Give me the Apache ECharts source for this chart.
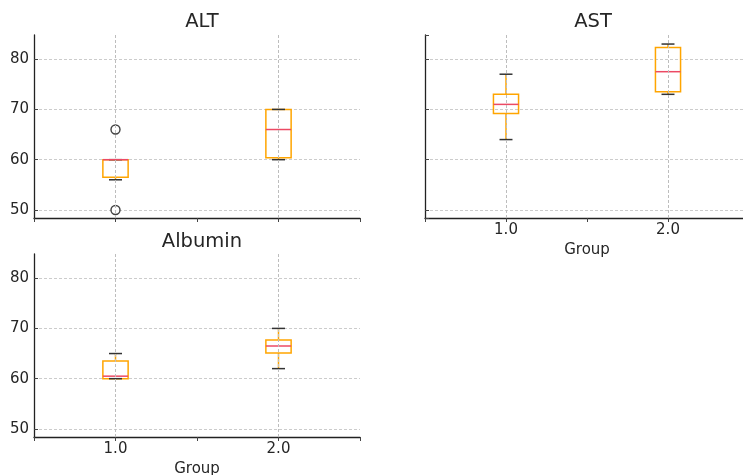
<!DOCTYPE html>
<html>
<head>
<meta charset="utf-8">
<script src="https://cdn.jsdelivr.net/npm/echarts@6/dist/echarts.min.js"></script>
<style>
html, body { margin: 0; padding: 0; background: #fff; }
#main { width: 743px; height: 475px; }
</style>
</head>
<body>
<div id="main"></div>
<script>
// groups on the x axis
var groups = [1, 2];
var groupLabels = ['1.0', '2.0'];
// box stats per group: [low whisker, q1, median, q3, high whisker]
var altStats = [[56, 56.5, 60, 60, 60], [60, 60.4, 66, 70, 70]];
var altOutliers = [[1, 66], [1, 50]];
var astStats = [[64, 69.2, 71, 73, 77], [73, 73.5, 77.5, 82.3, 83]];
var astOutliers = [];
var albStats = [[60, 60, 60.5, 63.5, 65], [62, 65.1, 66.5, 67.7, 70]];
var albOutliers = [];

var ORANGE = '#ffa500';
var MEDIAN = '#ec4a64';
var CAP = '#333';
var TEXT = '#262626';
var FONT = 'DejaVu Sans';

var chart = echarts.init(document.getElementById('main'));

function renderBox(params, api) {
    var x = api.value(0);
    var lo = api.coord([x, api.value(1)]);
    var q1 = api.coord([x, api.value(2)]);
    var md = api.coord([x, api.value(3)]);
    var q3 = api.coord([x, api.value(4)]);
    var hi = api.coord([x, api.value(5)]);
    var bw = api.size([0.155, 0])[0];
    var cw = api.size([0.08, 0])[0];
    var cx = lo[0];
    var lw = 1.5;
    return {
        type: 'group',
        children: [
            { type: 'line', shape: { x1: cx, y1: lo[1], x2: cx, y2: q1[1] }, style: { stroke: ORANGE, lineWidth: lw } },
            { type: 'line', shape: { x1: cx, y1: q3[1], x2: cx, y2: hi[1] }, style: { stroke: ORANGE, lineWidth: lw } },
            { type: 'rect', shape: { x: cx - bw / 2, y: q3[1], width: bw, height: q1[1] - q3[1] }, style: { fill: 'none', stroke: ORANGE, lineWidth: lw } },
            { type: 'line', shape: { x1: cx - cw / 2, y1: lo[1], x2: cx + cw / 2, y2: lo[1] }, style: { stroke: CAP, lineWidth: lw } },
            { type: 'line', shape: { x1: cx - cw / 2, y1: hi[1], x2: cx + cw / 2, y2: hi[1] }, style: { stroke: CAP, lineWidth: lw } },
            { type: 'line', shape: { x1: cx - bw / 2, y1: md[1], x2: cx + bw / 2, y2: md[1] }, style: { stroke: MEDIAN, lineWidth: lw } }
        ]
    };
}

function makeX(idx, showLabels) {
    return {
        type: 'value', gridIndex: idx, min: 0.5, max: 2.5, interval: 0.5,
        axisLine: { onZero: false, lineStyle: { color: '#222', width: 1.3 } },
        axisTick: { show: true, length: 4, lineStyle: { color: '#444' } },
        axisLabel: {
            show: showLabels, fontSize: 15, color: TEXT, fontFamily: FONT, margin: 5,
            formatter: function (v) {
                var i = groups.indexOf(v);
                return i >= 0 ? groupLabels[i] : '';
            }
        },
        splitLine: { show: false },
        name: showLabels ? 'Group' : '',
        nameLocation: 'middle', nameGap: 25,
        nameTextStyle: { fontSize: 15, color: TEXT, fontFamily: FONT }
    };
}

function makeY(idx, showLabels) {
    return {
        type: 'value', gridIndex: idx, min: 48.4, max: 84.8, splitNumber: 4,
        axisLine: { show: true, onZero: false, lineStyle: { color: '#222', width: 1.3 } },
        axisTick: { show: true, inside: true, length: 4, lineStyle: { color: '#444' } },
        axisLabel: { show: showLabels, showMinLabel: false, showMaxLabel: false, fontSize: 15, color: TEXT, fontFamily: FONT, margin: 5 },
        splitLine: { show: true, showMinLine: false, showMaxLine: false, lineStyle: { type: [3, 2], color: '#cccccc', width: 1 } }
    };
}

function boxSeries(idx, stats) {
    return {
        type: 'custom', xAxisIndex: idx, yAxisIndex: idx, z: 3,
        renderItem: renderBox,
        encode: { x: 0, y: [1, 2, 3, 4, 5] },
        data: groups.map(function (g, i) { return [g].concat(stats[i]); }),
        markLine: {
            silent: true, symbol: 'none', label: { show: false },
            lineStyle: { type: [3, 2], color: '#bdbdbd', width: 1 },
            data: groups.map(function (g) { return { xAxis: g }; })
        }
    };
}

function outlierSeries(idx, pts) {
    return {
        type: 'scatter', xAxisIndex: idx, yAxisIndex: idx, z: 4, clip: false,
        symbol: 'circle', symbolSize: 9,
        itemStyle: { color: '#fff', borderColor: '#111', borderWidth: 1.4 },
        data: pts
    };
}

var titleStyle = { fontSize: 19.5, fontWeight: 'normal', color: TEXT, fontFamily: FONT };

var option = {
    animation: false,
    backgroundColor: '#fff',
    title: [
        { text: 'ALT', left: 197, top: 7, textAlign: 'center', textStyle: titleStyle },
        { text: 'AST', left: 588, top: 7, textAlign: 'center', textStyle: titleStyle },
        { text: 'Albumin', left: 197, top: 227, textAlign: 'center', textStyle: titleStyle }
    ],
    grid: [
        { left: 34, top: 35, width: 326, height: 183, outerBoundsMode: 'none', containLabel: false },
        { left: 425, top: 35, width: 324, height: 183, outerBoundsMode: 'none', containLabel: false },
        { left: 34, top: 254, width: 326, height: 183, outerBoundsMode: 'none', containLabel: false }
    ],
    xAxis: [makeX(0, false), makeX(1, true), makeX(2, true)],
    yAxis: [makeY(0, true), makeY(1, false), makeY(2, true)],
    series: [
        boxSeries(0, altStats), outlierSeries(0, altOutliers),
        boxSeries(1, astStats), outlierSeries(1, astOutliers),
        boxSeries(2, albStats), outlierSeries(2, albOutliers)
    ]
};

chart.setOption(option);
</script>
</body>
</html>
